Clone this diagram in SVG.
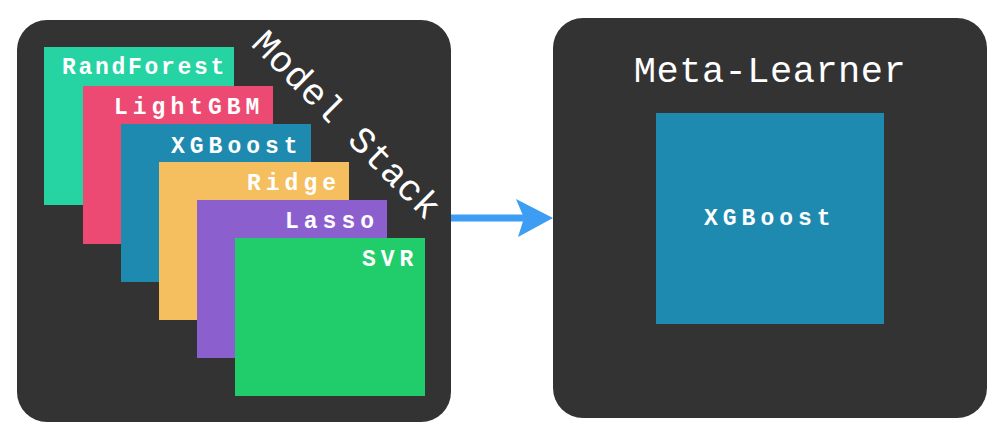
<svg xmlns="http://www.w3.org/2000/svg" width="1004" height="448" viewBox="0 0 1004 448">
<style>
.panel{fill:#333333}
.lbl{font-family:"Liberation Mono","DejaVu Sans Mono",monospace;font-weight:bold;font-size:23px;fill:#ffffff;letter-spacing:5px}
.title{font-family:"Liberation Mono","DejaVu Sans Mono",monospace;font-size:37px;fill:#ffffff;letter-spacing:0.5px}
</style>
<rect width="1004" height="448" fill="#ffffff"/>
<g id="model-stack">
<rect class="panel" x="17" y="20" width="434" height="402" rx="30"/>
<text class="title" x="250" y="45" transform="rotate(45 250 45)">Model Stack</text>
</g>
<g id="randforest"><rect x="44" y="47" width="190" height="158" fill="#26d3a3"/><text class="lbl" x="62" y="74" style="letter-spacing:2.7px">RandForest</text></g>
<g id="lightgbm"><rect x="83" y="86" width="190" height="158" fill="#ec4a72"/><text class="lbl" x="114" y="114">LightGBM</text></g>
<g id="xgboost-base"><rect x="121" y="124" width="190" height="158" fill="#1e8ab0"/><text class="lbl" x="171" y="152.5">XGBoost</text></g>
<g id="ridge"><rect x="159" y="162" width="190" height="158" fill="#f5be5e"/><text class="lbl" x="247" y="190">Ridge</text></g>
<g id="lasso"><rect x="197" y="200" width="190" height="158" fill="#8c5fcf"/><text class="lbl" x="285" y="228">Lasso</text></g>
<g id="svr"><rect x="235" y="238" width="190" height="158" fill="#21cc6b"/><text class="lbl" x="362" y="266">SVR</text></g>
<g id="meta-learner">
<rect class="panel" x="553" y="18" width="434" height="400" rx="30"/>
<text class="title" x="770" y="82" text-anchor="middle">Meta-Learner</text>
<rect x="656" y="113" width="228" height="211" fill="#1e8ab0"/>
<text class="lbl" x="704" y="224.5">XGBoost</text>
</g>
<g id="connectors">
<line x1="451" y1="218" x2="524" y2="218" stroke="#3d9df3" stroke-width="7"/>
<polygon points="516,199 553,218 518,237 524,218" fill="#3d9df3"/>
</g>
</svg>
